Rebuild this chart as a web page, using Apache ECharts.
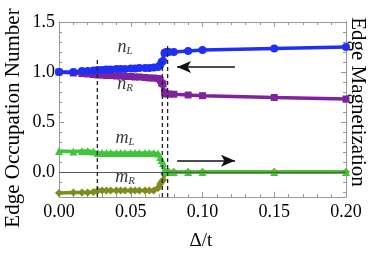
<!DOCTYPE html>
<html><head><meta charset="utf-8">
<script src="https://cdn.jsdelivr.net/npm/echarts@6/dist/echarts.min.js"></script>
<style>html,body{margin:0;padding:0;background:#fff}#c{width:374px;height:255px}</style>
</head><body><div id="c"></div>
<script>
var deltas = [0, 0.01, 0.016, 0.02, 0.024, 0.027, 0.03, 0.033, 0.036, 0.04, 0.043, 0.046, 0.05, 0.053, 0.056, 0.06, 0.063, 0.066, 0.069, 0.0705, 0.0715, 0.0725, 0.0735, 0.0745, 0.0765, 0.08, 0.09, 0.1, 0.15, 0.2];
var nL = [1.0, 1.0, 1.01, 1.01, 1.015, 1.02, 1.02, 1.025, 1.025, 1.03, 1.03, 1.03, 1.035, 1.035, 1.04, 1.04, 1.04, 1.045, 1.05, 1.07, 1.10, 1.11, 1.19, 1.20, 1.20, 1.20, 1.21, 1.22, 1.235, 1.25];
var nR = [1.0, 0.99, 0.985, 0.98, 0.975, 0.97, 0.97, 0.965, 0.965, 0.96, 0.96, 0.955, 0.955, 0.95, 0.95, 0.945, 0.94, 0.94, 0.935, 0.92, 0.89, 0.88, 0.80, 0.78, 0.78, 0.778, 0.77, 0.763, 0.745, 0.73];
var mL = [0.21, 0.205, 0.21, 0.21, 0.205, 0.19, 0.19, 0.19, 0.19, 0.19, 0.19, 0.19, 0.19, 0.19, 0.19, 0.19, 0.19, 0.19, 0.185, 0.15, 0.12, 0.09, 0.02, 0, 0, 0, 0, 0, 0, 0];
var mR = [-0.21, -0.205, -0.205, -0.205, -0.2, -0.185, -0.185, -0.185, -0.185, -0.185, -0.185, -0.185, -0.185, -0.185, -0.185, -0.185, -0.185, -0.185, -0.16, -0.12, -0.1, -0.08, -0.02, 0, 0, 0, 0, 0, 0, 0];
var xTicks = [0, 0.05, 0.1, 0.15, 0.2];
var yTicks = [0, 0.5, 1.0, 1.5];
var yMinorTicks = [-0.2, -0.1, 0.1, 0.2, 0.3, 0.4, 0.6, 0.7, 0.8, 0.9, 1.1, 1.2, 1.3, 1.4];
var dashX = [0.0267, 0.072, 0.0757];
var dashTop = [1.12, 1.1, 1.29];
var annLabels = [['n', 'L'], ['n', 'R'], ['m', 'L'], ['m', 'R']];
var annX = [0.046, 0.046, 0.046, 0.046];
var annY = [1.25, 0.88, 0.34, -0.05];
var arrowLeft = [0.1226, 0.0823, 1.05];
var arrowRight = [0.0823, 0.1226, 0.113];

var FONT = "'Liberation Serif', 'Times New Roman', 'DejaVu Serif', serif";
var FRAME = '#999';
function pairs(ys){ return deltas.map(function(d,i){ return [d, ys[i]]; }); }

var chart = echarts.init(document.getElementById('c'));
var yMin = -0.25, yMax = 1.5;
function yAx(pos, labels, ticks, len){
  return {type:'value', position:pos, min:yMin, max:yMax, offset:0,
    axisLine:{show:true, lineStyle:{color:FRAME, width:1}},
    axisTick:{show:true, inside:true, length:len, customValues:ticks, lineStyle:{color:FRAME}},
    axisLabel:{show:labels, customValues:ticks, color:'#000', fontFamily:FONT, fontSize:18, margin:4, formatter:function(v){return v.toFixed(1);}},
    splitLine:{show:false}};
}
function xAx(pos, labels){
  return {type:'value', position:pos, min:0, max:0.2, interval:0.05,
    axisLine:{show:true, onZero:false, lineStyle:{color:FRAME, width:1}},
    axisTick:{show:true, inside:true, length:5, lineStyle:{color:FRAME}},
    minorTick:{show:true, splitNumber:5, length:3, lineStyle:{color:FRAME}},
    axisLabel:{show:labels, color:'#000', fontFamily:FONT, fontSize:18, margin:6, formatter:function(v){return v.toFixed(2);}},
    splitLine:{show:false}};
}
var series = [];
function dataSeries(name, ys, color, symbol, size){
  series.push({name:name, type:'line', data:pairs(ys), xAxisIndex:0, yAxisIndex:0,
    symbol:symbol, symbolSize:size, showAllSymbol:true,
    lineStyle:{color:color, width:3.5}, itemStyle:{color:color}, z:3, animation:false});
}
series.push({type:'line', data:[], xAxisIndex:0, yAxisIndex:0, animation:false,
  markLine:{silent:true, symbol:['none','none'], label:{show:false}, lineStyle:{color:'#555', width:1, type:'solid'},
    data:[{yAxis:0}]}});
dataSeries('mR', mR, '#7f8c1a', 'diamond', 8);
dataSeries('mL', mL, '#3fc43a', 'triangle', 8);
dataSeries('nR', nR, '#7e22a0', 'rect', 7);
dataSeries('nL', nL, '#1f2ff5', 'circle', 8);
dashX.forEach(function(x,i){
  series.push({type:'line', data:[[x, yMin],[x, dashTop[i]]], symbol:'none', xAxisIndex:0, yAxisIndex:0,
    lineStyle:{color:'#222', width:1.3, type:[4,3]}, z:5, animation:false});
});
series.push({type:'line', data:[], xAxisIndex:0, yAxisIndex:0, animation:false,
  markLine:{silent:true, symbol:['none','arrow'], symbolSize:[9,14], label:{show:false},
    lineStyle:{color:'#111', width:1.5, type:'solid'},
    data:[
      [{coord:[arrowLeft[0], arrowLeft[2]]},{coord:[arrowLeft[1], arrowLeft[2]]}],
      [{coord:[arrowRight[0], arrowRight[2]]},{coord:[arrowRight[1], arrowRight[2]]}]
    ]}});
series.push({type:'scatter', symbolSize:0, xAxisIndex:0, yAxisIndex:0, z:6, animation:false,
  data: annLabels.map(function(l,i){ return {value:[annX[i], annY[i]], name:l[0]+'|'+l[1]}; }),
  label:{show:true, position:'inside', formatter:function(p){ var s=p.name.split('|'); return '{a|'+s[0]+'}{b|'+s[1]+'}'; },
    rich:{a:{fontFamily:FONT, fontStyle:'italic', fontSize:18, color:'#000'},
          b:{fontFamily:FONT, fontStyle:'italic', fontSize:11, color:'#000', padding:[9,0,0,0]}}}});

chart.setOption({
  animation:false,
  grid:{left:59, top:22, width:287, height:175, containLabel:false},
  xAxis:[xAx('bottom', true), xAx('top', false)],
  yAxis:[
    yAx('left', true, yTicks, 5), yAx('left', false, yMinorTicks, 3),
    yAx('right', false, yTicks, 5), yAx('right', false, yMinorTicks, 3)
  ],
  series: series,
  graphic:[
    {type:'text', x:13, y:118, rotation:Math.PI/2, style:{text:'Edge Occupation Number', fontFamily:FONT, fontSize:21, fill:'#000', align:'center', verticalAlign:'middle'}},
    {type:'text', x:358, y:102, rotation:-Math.PI/2, style:{text:'Edge Magnetization', fontFamily:FONT, fontSize:21, fill:'#000', align:'center', verticalAlign:'middle'}},
    {type:'text', x:201, y:241, style:{text:'Δ/t', fontFamily:FONT, fontSize:19, fill:'#000', align:'center', verticalAlign:'middle'}}
  ]
});
</script></body></html>
